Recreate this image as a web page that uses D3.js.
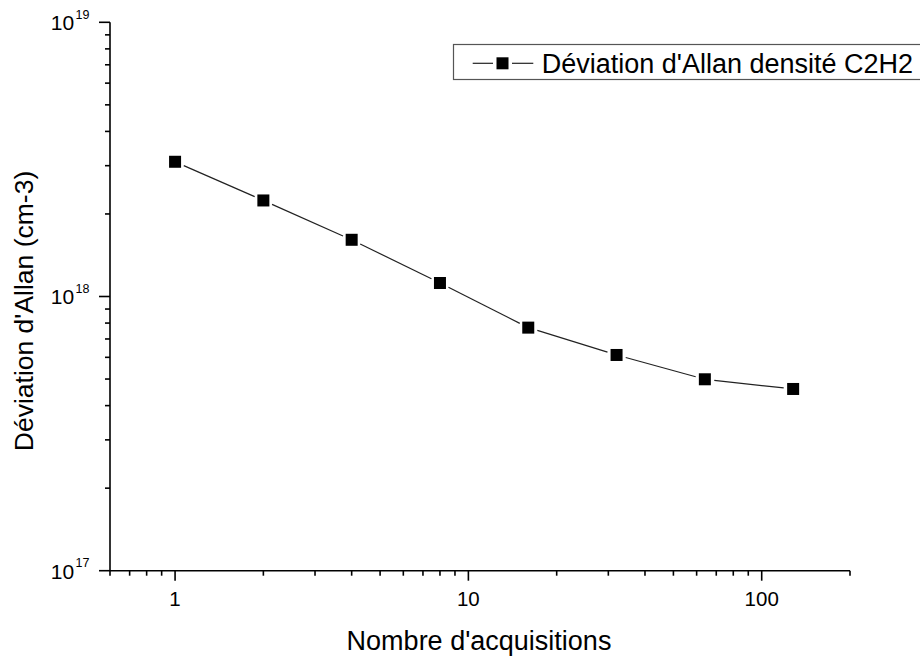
<!DOCTYPE html>
<html>
<head>
<meta charset="utf-8">
<script src="https://cdn.jsdelivr.net/npm/d3@7"></script>
<style>
  html, body { margin: 0; padding: 0; background: #fff; }
  svg { display: block; font-family: "Liberation Sans", Arial, sans-serif; }
</style>
</head>
<body>
<svg id="chart" width="920" height="657"></svg>
<script>
// Data
const acquisitions = [1, 2, 4, 8, 16, 32, 64, 128];
const allanDeviation = [3.10e18, 2.24e18, 1.61e18, 1.12e18, 7.70e17, 6.12e17, 4.99e17, 4.60e17];
const xTickValues = [1, 10, 100];
const xTickLabels = ["1", "10", "100"];
const yTickValues = [1e17, 1e18, 1e19];
const yTickExponents = ["17", "18", "19"];
const seriesName = "Déviation d'Allan densité C2H2";
const xTitle = "Nombre d'acquisitions";
const yTitle = "Déviation d'Allan (cm-3)";

(function () {
const svg = d3.select("#chart");
const pLeft = 110, pRight = 850, pTop = 22.3, pBottom = 570.7;

const x = d3.scaleLog().domain([0.6, 200]).range([pLeft, pRight]);
const y = d3.scaleLog().domain([1e17, 1e19]).range([pBottom, pTop]);

// minor ticks
const xMinor = [];
for (let e = -1; e <= 2; e++) for (let m = 1; m <= 9; m++) {
  const v = +(m * Math.pow(10, e)).toPrecision(6);
  if (v >= 0.6 - 1e-9 && v <= 200 + 1e-9 && !xTickValues.includes(v)) xMinor.push(v);
}
const yMinor = [];
for (let e = 17; e <= 18; e++) for (let m = 2; m <= 9; m++) yMinor.push(m * Math.pow(10, e));

const axisColor = "#000";
// X axis
const gx = svg.append("g");
gx.append("line").attr("x1", pLeft).attr("x2", pRight).attr("y1", pBottom).attr("y2", pBottom)
  .attr("stroke", axisColor).attr("stroke-width", 1.6);
gx.selectAll("line.minor").data(xMinor).enter().append("line").attr("class", "minor")
  .attr("x1", d => x(d)).attr("x2", d => x(d)).attr("y1", pBottom).attr("y2", pBottom + 5)
  .attr("stroke", axisColor).attr("stroke-width", 1.6);
gx.selectAll("line.major").data(xTickValues).enter().append("line").attr("class", "major")
  .attr("x1", d => x(d)).attr("x2", d => x(d)).attr("y1", pBottom).attr("y2", pBottom + 10)
  .attr("stroke", axisColor).attr("stroke-width", 1.6);
gx.selectAll("text").data(xTickValues).enter().append("text")
  .attr("x", d => x(d)).attr("y", 605.7).attr("text-anchor", "middle")
  .attr("font-size", 20.5).attr("fill", "#000").text((d, i) => xTickLabels[i]);

// Y axis
const gy = svg.append("g");
gy.append("line").attr("x1", pLeft).attr("x2", pLeft).attr("y1", pTop).attr("y2", pBottom)
  .attr("stroke", axisColor).attr("stroke-width", 1.6);
gy.selectAll("line.minor").data(yMinor).enter().append("line").attr("class", "minor")
  .attr("x1", pLeft - 5).attr("x2", pLeft).attr("y1", d => y(d)).attr("y2", d => y(d))
  .attr("stroke", axisColor).attr("stroke-width", 1.6);
gy.selectAll("line.major").data(yTickValues).enter().append("line").attr("class", "major")
  .attr("x1", pLeft - 11).attr("x2", pLeft).attr("y1", d => y(d)).attr("y2", d => y(d))
  .attr("stroke", axisColor).attr("stroke-width", 1.6);
const yl = gy.selectAll("text").data(yTickValues).enter().append("text")
  .attr("x", 89.5).attr("y", d => y(d) + 7.9).attr("text-anchor", "end")
  .attr("font-size", 21).attr("fill", "#000");
yl.append("tspan").text("10");
yl.append("tspan").attr("font-size", 12.5).attr("dx", 1.5).attr("dy", -11.7).text((d, i) => yTickExponents[i]);

// Titles
svg.append("text").attr("x", 479).attr("y", 650).attr("text-anchor", "middle")
  .attr("font-size", 27).attr("fill", "#000").text(xTitle);
svg.append("text").attr("transform", "translate(33,311) rotate(-90)").attr("text-anchor", "middle")
  .attr("font-size", 26.5).attr("fill", "#000").text(yTitle);

// Series line (segments with small gaps near markers)
const pts = acquisitions.map((a, i) => [x(a), y(allanDeviation[i])]);
const gap = 9.5;
const segs = [];
for (let i = 0; i < pts.length - 1; i++) {
  const [x0, y0] = pts[i], [x1, y1] = pts[i + 1];
  const len = Math.hypot(x1 - x0, y1 - y0);
  const ux = (x1 - x0) / len, uy = (y1 - y0) / len;
  segs.push([x0 + ux * gap, y0 + uy * gap, x1 - ux * gap, y1 - uy * gap]);
}
svg.append("g").selectAll("line").data(segs).enter().append("line")
  .attr("x1", d => d[0]).attr("y1", d => d[1]).attr("x2", d => d[2]).attr("y2", d => d[3])
  .attr("stroke", "#222").attr("stroke-width", 1.2);

const ms = 12;
svg.append("g").selectAll("rect").data(pts).enter().append("rect")
  .attr("x", d => d[0] - ms / 2).attr("y", d => d[1] - ms / 2)
  .attr("width", ms).attr("height", ms).attr("fill", "#000");

// Legend
const lg = svg.append("g");
lg.append("rect").attr("x", 453.5).attr("y", 44.5).attr("width", 480).attr("height", 35)
  .attr("fill", "#fff").attr("stroke", "#555").attr("stroke-width", 1.2);
const lgCx = 502.5, lgCy = 63.3;
[[472.7, lgCx - 9.5], [lgCx + 9.5, 533.3]].forEach(s => {
  lg.append("line").attr("x1", s[0]).attr("x2", s[1]).attr("y1", lgCy).attr("y2", lgCy)
    .attr("stroke", "#222").attr("stroke-width", 1.2);
});
lg.append("rect").attr("x", lgCx - 6).attr("y", lgCy - 6).attr("width", 12).attr("height", 12).attr("fill", "#000");
lg.append("text").attr("x", 541.7).attr("y", 73.3).attr("font-size", 27).attr("fill", "#000").text(seriesName);
})();
</script>
</body>
</html>
